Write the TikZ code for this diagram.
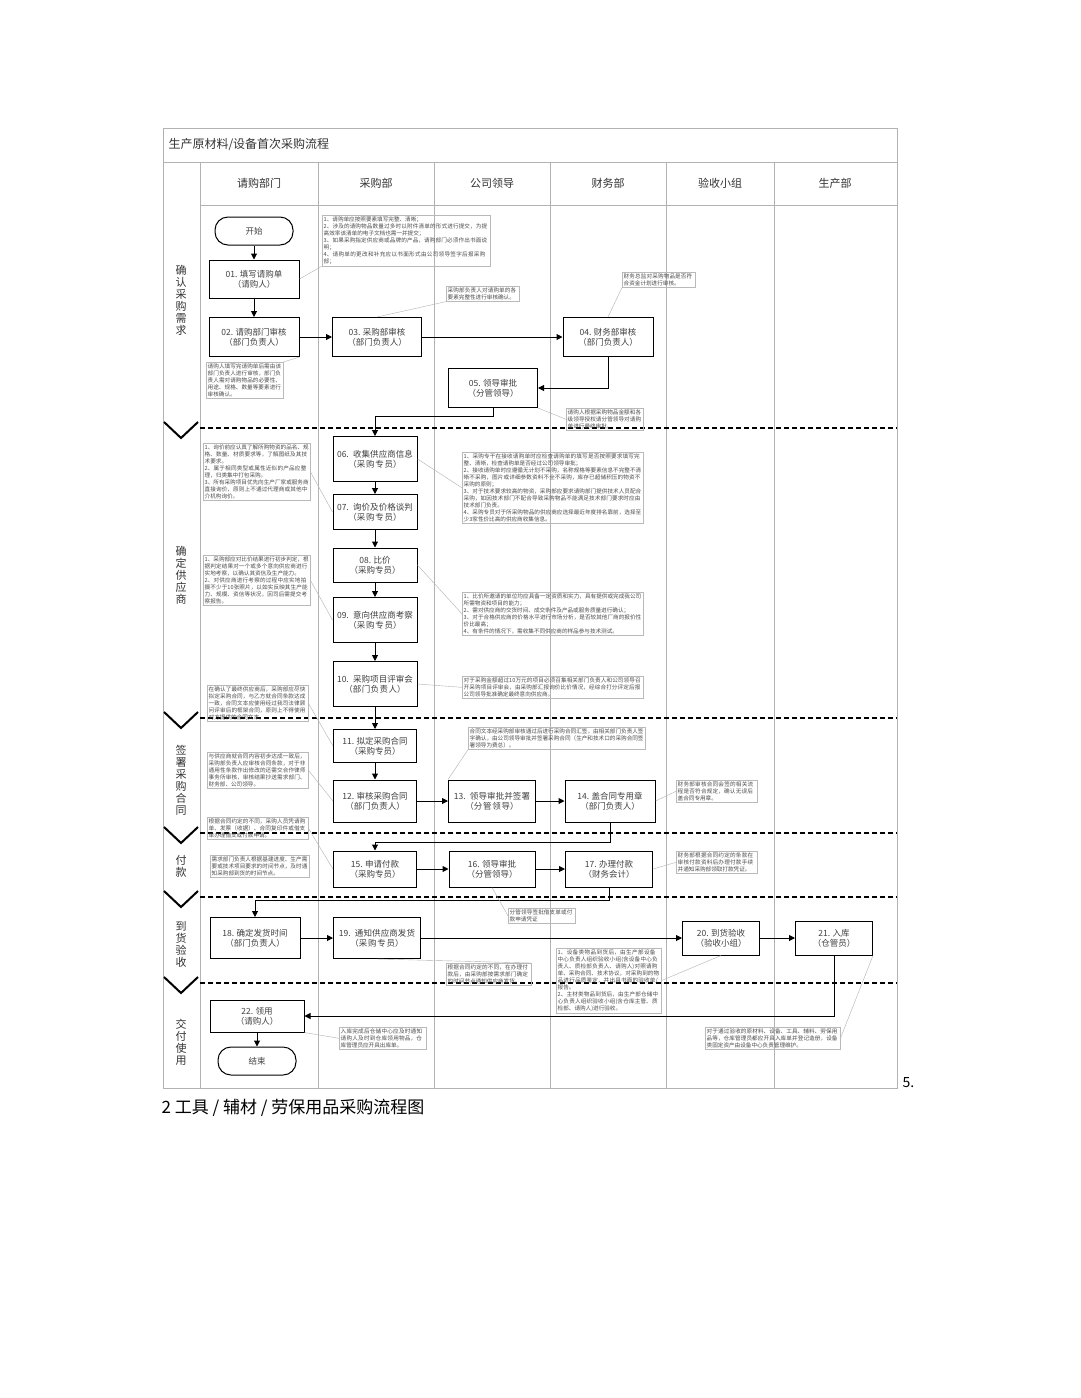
\documentclass[tikz,border=0pt]{standalone}
\usepackage{fontspec}
\setmainfont{Noto Sans CJK SC}
\XeTeXlinebreaklocale "zh"
\XeTeXlinebreakskip=0pt plus 1pt
\usetikzlibrary{arrows.meta}
\begin{document}
\begin{tikzpicture}[x=1pt,y=-1pt,
 bx/.style={draw,line width=1pt,align=center,font=\fontsize{8.5}{10}\selectfont,inner sep=1pt,text=black!75},
 term/.style={bx,rounded corners=13pt,minimum width=78pt,minimum height=28pt},
 nt/.style={draw=gray!55,line width=0.4pt,anchor=north west,align=left,font=\fontsize{5.6}{7}\selectfont,inner sep=1.5pt,text=black!70},
 arr/.style={-{Triangle[length=6pt,width=6pt]},line width=1pt},
 ld/.style={gray!60,line width=0.4pt},
 sep/.style={line width=2pt,dash pattern=on 5pt off 3pt},
 chev/.style={line width=2pt},
 lane/.style={gray!60,line width=0.6pt},
 stg/.style={align=center,font=\fontsize{11}{12}\selectfont,text=black!80},
 hd/.style={font=\fontsize{11}{12}\selectfont,text=black!80}]
\useasboundingbox[fill=white] (0,0) rectangle (1080,1398);
% frame
\draw[lane] (163,128) rectangle (897,1088);
\draw[lane] (163,162) -- (897,162);
\draw[lane] (200,205) -- (897,205);
\foreach \x in {200,318,434,550,666,774} \draw[lane] (\x,162) -- (\x,1088);
\node[anchor=west,font=\fontsize{12}{13}\selectfont,text=black!80] (title) at (165,145) {生产原材料/设备首次采购流程};
\node[hd] (h1) at (259,183) {请购部门};
\node[hd] (h2) at (376,183) {采购部};
\node[hd] (h3) at (492,183) {公司领导};
\node[hd] (h4) at (608,183) {财务部};
\node[hd] (h5) at (720,183) {验收小组};
\node[hd] (h6) at (835,183) {生产部};
% stages
\foreach \y in {428,718,833,897,983}{
 \draw[sep] (200,\y) -- (897,\y);
 \draw[chev] (164,\y-6) -- (181,\y+10) -- (198,\y-6);}
\node[stg] (s1) at (181,300) {确\\认\\采\\购\\需\\求};
\node[stg] (s2) at (181,575) {确\\定\\供\\应\\商};
\node[stg] (s3) at (181,780) {签\\署\\采\\购\\合\\同};
\node[stg] (s4) at (181,866) {付\\款};
\node[stg] (s5) at (181,944) {到\\货\\验\\收};
\node[stg] (s6) at (181,1042) {交\\付\\使\\用};
% nodes
\node[term] (st) at (254,231) {开始};
\node[bx,minimum width=90pt,minimum height=38pt] (n01) at (254,279) {01. 填写请购单\\（请购人）};
\node[bx,minimum width=90pt,minimum height=39pt] (n02) at (254,337) {02. 请购部门审核\\（部门负责人）};
\node[bx,minimum width=89pt,minimum height=39pt] (n03) at (377,337) {03. 采购部审核\\（部门负责人）};
\node[bx,minimum width=90pt,minimum height=39pt] (n04) at (608,337) {04. 财务部审核\\（部门负责人）};
\node[bx,minimum width=89pt,minimum height=39pt] (n05) at (493,388) {05. 领导审批\\（分管领导）};
\node[bx,minimum width=84pt,minimum height=45pt,text width=78pt] (n06) at (375,459) {06. 收集供应商信息\\（采购专员）};
\node[bx,minimum width=84pt,minimum height=35pt,text width=78pt] (n07) at (375,512) {07. 询价及价格谈判\\（采购专员）};
\node[bx,minimum width=84pt,minimum height=34pt] (n08) at (375,565) {08. 比价\\（采购专员）};
\node[bx,minimum width=84pt,minimum height=45pt,text width=78pt] (n09) at (375,620) {09. 意向供应商考察\\（采购专员）};
\node[bx,minimum width=84pt,minimum height=45pt,text width=78pt] (n10) at (375,684) {10. 采购项目评审会\\（部门负责人）};
\node[bx,minimum width=83pt,minimum height=33pt] (n11) at (375,746) {11. 拟定采购合同\\（采购专员）};
\node[bx,minimum width=83pt,minimum height=42pt] (n12) at (375,801) {12. 审核采购合同\\（部门负责人）};
\node[bx,minimum width=87pt,minimum height=42pt,text width=80pt] (n13) at (492,801) {13. 领导审批并签署\\（分管领导）};
\node[bx,minimum width=90pt,minimum height=42pt] (n14) at (610,801) {14. 盖合同专用章\\（部门负责人）};
\node[bx,minimum width=83pt,minimum height=36pt] (n15) at (375,869) {15. 申请付款\\（采购专员）};
\node[bx,minimum width=86pt,minimum height=36pt] (n16) at (492,869) {16. 领导审批\\（分管领导）};
\node[bx,minimum width=87pt,minimum height=36pt] (n17) at (609,869) {17. 办理付款\\（财务会计）};
\node[bx,minimum width=90pt,minimum height=41pt] (n18) at (255,938) {18. 确定发货时间\\（部门负责人）};
\node[bx,minimum width=87pt,minimum height=41pt,text width=80pt] (n19) at (377,938) {19. 通知供应商发货\\（采购专员）};
\node[bx,minimum width=77pt,minimum height=34pt] (n20) at (721,938) {20. 到货验收\\（验收小组）};
\node[bx,minimum width=77pt,minimum height=34pt] (n21) at (834,938) {21. 入库\\（仓管员）};
\node[bx,minimum width=94pt,minimum height=32pt] (n22) at (257,1016) {22. 领用\\（请购人）};
\node[term] (en) at (257,1061) {结束};
% arrows
\draw[arr] (st) -- (n01);
\draw[arr] (n01) -- (n02);
\draw[arr] (n02) -- (n03);
\draw[arr] (n03) -- (n04);
\draw[arr] (n04.south) |- (n05.east);
\draw[arr] (n05.south) |- (375,416) -- (n06.north);
\draw[arr] (n06) -- (n07);
\draw[arr] (n07) -- (n08);
\draw[arr] (n08) -- (n09);
\draw[arr] (n09) -- (n10);
\draw[arr] (n10) -- (n11);
\draw[arr] (n11) -- (n12);
\draw[arr] (n12) -- (n13);
\draw[arr] (n13) -- (n14);
\draw[arr] (n14.south) |- (375,842) -- (n15.north);
\draw[arr] (n15) -- (n16);
\draw[arr] (n16) -- (n17);
\draw[arr] (n17.south) |- (255,900) -- (n18.north);
\draw[arr] (n18) -- (n19);
\draw[arr] (n19) -- (n20);
\draw[arr] (n20) -- (n21);
\draw[arr] (n21.south) |- (n22.east);
\draw[arr] (n22) -- (en);
% notes
\node[nt,text width=165pt] (c1) at (322,215) {1、请购单应按照要素填写完整、清晰；\\2、涉及的请购物品数量过多时以附件清单的形式进行提交，为提高效率该清单的电子文档也需一并提交；\\3、如果采购指定供应商或品牌的产品，请购部门必须作出书面说明；\\4、请购单的更改和补充应以书面形式由公司领导签字后报采购部；};
\node[nt,text width=70pt] (c2) at (446,286) {采购部负责人对请购单的各要素完整性进行审核确认。};
\node[nt,text width=70pt] (c3) at (622,272) {财务总监对采购物品是否符合资金计划进行审核。};
\node[nt,text width=74pt] (c4) at (206,362) {请购人填写完请购单后需由该部门负责人进行审核，部门负责人需对请购物品的必要性、用途、规格、数量等要素进行审核确认。};
\node[nt,text width=74pt] (c5) at (566,408) {请购人根据采购物品金额和各级领导授权请分管领导对请购单进行最终审批。};
\node[nt,text width=104pt] (c6) at (203,443) {1、询价前应认真了解所购物资的品名、规格、数量、材质要求等，了解图纸及其技术要求。\\2、属于相同类型或属性近似的产品应整理，归类集中打包采购。\\3、所有采购项目优先向生产厂家或服务商直接询价，原则上不通过代理商或其他中介机构询价。};
\node[nt,text width=104pt] (c7) at (203,555) {1、采购部应对比价结果进行初步判定，根据判定结果对一个或多个意向供应商进行实地考察，以确认其资信及生产能力。\\2、对供应商进行考察的过程中应实地拍摄不少于10张照片，以如实反映其生产能力、规模、资信等状况，回司后需提交考察报告。};
\node[nt,text width=178pt] (c8) at (462,452) {1、采购专干在接收请购单时应检查请购单的填写是否按照要求填写完整、清晰，检查请购单是否经过公司领导审批；\\2、接收请购单时应遵循无计划不采购，名称规格等要素信息不完整不清晰不采购，图片或详细参数资料不全不采购，库存已超储积压的物资不采购的原则；\\3、对于技术要求较高的物资，采购部应要求请购部门提供技术人员配合采购，如因技术部门不配合导致采购物品不能满足技术部门要求时应由技术部门负责。\\4、采购专员对于所采购物品的供应商应选择最近年度排名靠前，选择至少3家性价比高的供应商收集信息。};
\node[nt,text width=178pt] (c9) at (462,592) {1、比价所邀请的单位均应具备一定资质和实力，具有提供或完成我公司所需物资和项目的能力；\\2、需对供应商的交货时间、成交条件及产品或服务质量进行确认；\\3、对于合格供应商的价格水平进行市场分析，是否较其他厂商的报价性价比最高；\\4、有条件的情况下，需收集不同供应商的样品参与技术测试。};
\node[nt,text width=178pt] (c10) at (462,676) {对于采购金额超过10万元的项目必须召集相关部门负责人和公司领导召开采购项目评审会，由采购部汇报询价比价情况，经综合打分评定后报公司领导批准确定最终意向供应商。};
\node[nt,text width=98pt] (c11) at (207,685) {在确认了最终供应商后，采购部应尽快拟定采购合同，与乙方就合同条款达成一致，合同文本应使用经过我司法律顾问评审后的框架合同，原则上不得使用对方提供的合同文本。};
\node[nt,text width=98pt] (c12) at (207,752) {与供应商就合同内容初步达成一致后，采购部负责人应审核合同条款，对于非通用性条款作出修改的还需交合作律师事务所审核，审核结果抄送需求部门、财务部、公司领导。};
\node[nt,text width=174pt] (c13) at (468,727) {合同文本经采购部审核通过后进行采购合同汇签，由相关部门负责人签字确认，由公司领导审批并签署采购合同（生产和技术口的采购合同签署领导为费总）。};
\node[nt,text width=78pt] (c14) at (676,780) {财务部审核合同会签的相关流程是否符合规定，确认无误后盖合同专用章。};
\node[nt,text width=98pt] (c15) at (207,817) {根据合同约定的不同，采购人员凭请购单、发票（收据）、合同复印件或借支单办理借支或付款申请。};
\node[nt,text width=78pt] (c16) at (676,851) {财务部根据合同约定的条款在审核付款资料后办理付款手续并通知采购部领取打款凭证。};
\node[nt,text width=96pt] (c17) at (210,855) {需求部门负责人根据基建进度、生产需要或技术项目要求的时间节点，及时通知采购部到货的时间节点。};
\node[nt,text width=64pt] (c18) at (508,908) {分管领导签批借支单或付款申请凭证};
\node[nt,text width=82pt] (c19) at (446,963) {根据合同约定的不同，在办理付款后，由采购部按需求部门确定的时间节点通知供应商发货。};
\node[nt,text width=102pt] (c20) at (556,948) {1、设备类物品到货后，由生产部设备中心负责人组织验收小组(含设备中心负责人、质检部负责人、请购人)对照请购单、采购合同、技术协议，对采购到的物品进行品质鉴定，并出具书面的验收单/报告。\\2、主材类物品到货后，由生产部仓储中心负责人组织验收小组(含仓库主管、质检部、请购人)进行验收。};
\node[nt,text width=132pt] (c21) at (705,1027) {对于通过验收的原材料、设备、工具、辅料、劳保用品等，仓库管理员都应开具入库单并登记造册，设备类固定资产由设备中心负责管理维护。};
\node[nt,text width=84pt] (c22) at (339,1027) {入库完成后仓储中心应及时通知请购人及时到仓库领用物品，仓库管理员应开具出库单。};
% leaders
\draw[ld] (n01.east) -- (c1.south west);
\draw[ld] (n03.north) -- (c2.south west);
\draw[ld] (n04.north) -- (c3.south west);
\draw[ld] (n02.south east) -- (c4.north east);
\draw[ld] (n05.south east) -- (c5.west);
\draw[ld] (n07.west) -- (c6.east);
\draw[ld] (n09.west) -- (c7.east);
\draw[ld] (n06.east) -- (c8.west);
\draw[ld] (n08.east) -- (c9.west);
\draw[ld] (n10.east) -- (c10.west);
\draw[ld] (n11.west) -- (c11.east);
\draw[ld] (n12.west) -- (c12.east);
\draw[ld] (n13.north west) -- (c13.south west);
\draw[ld] (n14.east) -- (c14.west);
\draw[ld] (n15.west) -- (c15.east);
\draw[ld] (n17.east) -- (c16.west);
\draw[ld] (n16.south) -- (c18.west);
\draw[ld] (n19.south) -- (c19.north east);
\draw[ld] (n20.south) -- (c20.east);
\draw[ld] (n21.south east) -- (c21.east);
\draw[ld] (n22.south east) -- (c22.west);
% below
\node[anchor=west,font=\fontsize{14}{16}\selectfont] (five) at (899,1083) {5.};
\node[anchor=west,font=\fontsize{17}{19}\selectfont] (cap) at (158,1108) {2 工具 / 辅材 / 劳保用品采购流程图};
\end{tikzpicture}
\end{document}
